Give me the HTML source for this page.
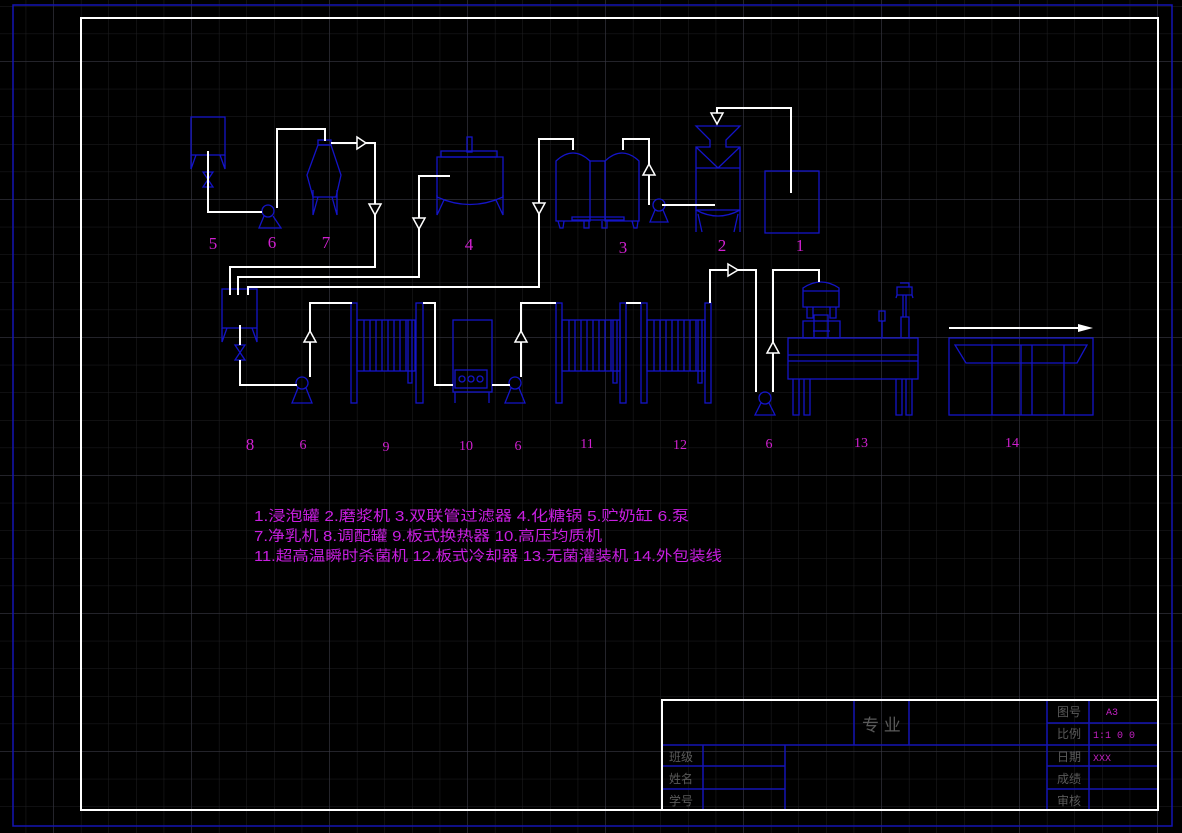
<!DOCTYPE html>
<html><head><meta charset="utf-8"><style>
html,body{margin:0;padding:0;background:#000;}
svg{display:block;}
.b{stroke:#1414c8;stroke-width:1.3;fill:none;}
.w{stroke:#fff;stroke-width:2;fill:none;}
.lab{fill:#d020d0;font-family:"Liberation Serif",serif;font-size:17px;text-anchor:middle;}
.lg{fill:#c81ee0;font-family:"Liberation Sans","Noto Sans CJK SC",sans-serif;font-size:14.5px;}
.g{fill:#5a5a5a;font-family:"Liberation Sans","Noto Sans CJK SC",sans-serif;font-size:12px;}
.m{fill:#c020c0;font-family:"Liberation Mono",monospace;font-size:10px;}
</style></head><body>
<svg width="1182" height="833" viewBox="0 0 1182 833" xmlns="http://www.w3.org/2000/svg">
<defs>
<pattern id="mi" x="25.7" y="6" width="27.6" height="27.6" patternUnits="userSpaceOnUse">
<path d="M0 0V27.6M0 0H27.6" stroke="#1f1f22" stroke-width="1"/></pattern>
<pattern id="ma" x="53.3" y="61" width="138" height="138" patternUnits="userSpaceOnUse">
<path d="M0 0V138M0 0H138" stroke="#3a3a46" stroke-width="1"/></pattern>
</defs>
<rect width="1182" height="833" fill="#000"/>
<rect width="1182" height="833" fill="url(#mi)"/>
<rect width="1182" height="833" fill="url(#ma)"/>
<rect x="13" y="5" width="1159" height="821" stroke="#1414b4" stroke-width="1.5" fill="none"/>
<rect x="81" y="18" width="1077" height="792" stroke="#fff" stroke-width="2" fill="none"/>

<!-- Tank 5 -->
<rect class="b" x="191" y="117" width="34" height="38"/>
<path class="b" d="M191 155V169L196 155M225 155V169L220 155"/>
<path class="b" d="M203 172H213L203 187H213Z"/>
<!-- pump 6 -->
<circle class="b" cx="268" cy="211" r="6"/><path class="b" d="M264 216L259 228H281L273 216"/>
<!-- Vessel 7 -->
<rect class="b" x="318" y="140" width="13" height="5"/>
<path class="b" d="M318 145L307 175L313 197L336 197L341 175L331 145Z"/>
<path class="b" d="M313 190V215L318 197M337 190V215L332 197"/>
<!-- Tank 4 -->
<rect class="b" x="467" y="137" width="5" height="15"/>
<rect class="b" x="441" y="151" width="56" height="6"/>
<path class="b" d="M437 157H503V197Q470 212 437 197Z"/>
<path class="b" d="M437 195V215L444 200M503 195V215L496 200"/>
<!-- Filter 3 -->
<path class="b" d="M556 161Q573 145 590 161V221H556Z"/>
<path class="b" d="M605 161Q622 145 639 161V221H605Z"/>
<path class="b" d="M590 161H605M572 217H624V220H572Z"/>
<path class="b" d="M558 221L560 228H563L564 221M584 221V228H589V221M602 221V228H607V221M632 221L634 228H637L638 221"/>
<!-- pump near 3 -->
<circle class="b" cx="659" cy="205" r="6"/><path class="b" d="M655 210L650 222H668L663 210"/>
<!-- Machine 2 -->
<path class="b" d="M696 126H740L726 140V147H740V210H696V147H710V140Z"/>
<path class="b" d="M696 147L718 168L740 147M696 168H740"/>
<path class="b" d="M696 210Q718 222 740 210M696 210V232M740 210V232M698 214L702 232M738 214L734 232"/>
<!-- box 1 -->
<rect class="b" x="765" y="171" width="54" height="62"/>

<!-- Tank 8 -->
<rect class="b" x="222" y="289" width="35" height="39"/>
<path class="b" d="M222 328V342L227 328M257 328V342L252 328"/>
<path class="b" d="M235 345H245L235 360H245Z"/>
<!-- pump -->
<circle class="b" cx="302" cy="383" r="6"/><path class="b" d="M298 388L292 403H312L306 388"/>
<!-- Exchanger 9 -->
<rect class="b" x="351" y="303" width="6" height="100"/>
<rect class="b" x="416" y="303" width="7" height="100"/>
<rect class="b" x="357" y="320" width="58" height="51"/>
<path class="b" d="M364 320V371M370 320V371M376 320V371M382 320V371M388 320V371M394 320V371M400 320V371M406 320V371M408 320V383H412V320"/>
<!-- homogenizer 10 -->
<rect class="b" x="453" y="320" width="39" height="72"/>
<rect class="b" x="455" y="370" width="32" height="18"/>
<circle class="b" cx="462" cy="379" r="3"/><circle class="b" cx="471" cy="379" r="3"/><circle class="b" cx="480" cy="379" r="3"/>
<path class="b" d="M455 392V403M489 392V403"/>
<!-- pump -->
<circle class="b" cx="515" cy="383" r="6"/><path class="b" d="M511 388L505 403H525L519 388"/>
<!-- Unit 11 -->
<rect class="b" x="556" y="303" width="6" height="100"/>
<rect class="b" x="620" y="303" width="6" height="100"/>
<rect class="b" x="562" y="320" width="58" height="51"/>
<path class="b" d="M569 320V371M575 320V371M581 320V371M587 320V371M593 320V371M599 320V371M605 320V371M611 320V371M613 320V383H617V320"/>
<!-- Unit 12 -->
<rect class="b" x="641" y="303" width="6" height="100"/>
<rect class="b" x="705" y="303" width="6" height="100"/>
<rect class="b" x="647" y="320" width="58" height="51"/>
<path class="b" d="M654 320V371M660 320V371M666 320V371M672 320V371M678 320V371M684 320V371M690 320V371M696 320V371M698 320V383H702V320"/>
<!-- pump -->
<circle class="b" cx="765" cy="398" r="6"/><path class="b" d="M761 403L755 415H775L769 403"/>
<!-- Filler 13 -->
<path class="b" d="M803 288Q821 276 839 288V307H803ZM803 291H839"/>
<path class="b" d="M807 307V318H813V307M830 307V318H836V307"/>
<path class="b" d="M803 321H840V338H803ZM814 315H828V338H814ZM813 331H830"/>
<rect class="b" x="788" y="338" width="130" height="41"/>
<path class="b" d="M788 355H918M788 361H918"/>
<path class="b" d="M793 379V415H799V379M804 379V415H810V379M896 379V415H902V379M906 379V415H912V379"/>
<rect class="b" x="879" y="311" width="6" height="10"/><path class="b" d="M882 321V338"/>
<path class="b" d="M901 338V317H909V338M903 317V295H906V317M897 287H912V295H897ZM900 283H909V287M897 295L896 298M912 295L913 298"/>
<!-- Packaging 14 -->
<rect class="b" x="949" y="338" width="144" height="77"/>
<path class="b" d="M955 345H1087L1077 363H966ZM992 345V415M1021 345V415M1032 345V415M1064 345V415"/>
<path class="w" d="M949 328H1083"/><path d="M1078 324L1093 328L1078 332Z" fill="#fff"/>

<!-- White pipes -->
<path class="w" d="M208 151V212H262"/>
<path class="w" d="M277 208V129H325V141"/>
<path class="w" d="M331 143H375V267H230V295"/>
<path class="w" d="M450 176H419V277H238V295"/>
<path class="w" d="M573 150V139H539V287H248V295"/>
<path class="w" d="M623 150V139H649V205"/>
<path class="w" d="M662 205H715"/>
<path class="w" d="M717 123V108H791V193"/>
<path class="w" d="M240 325V345M240 360V385H297"/>
<path class="w" d="M310 377V303H352"/>
<path class="w" d="M423 303H435V385H453"/>
<path class="w" d="M492 385H510"/>
<path class="w" d="M521 377V303H556"/>
<path class="w" d="M626 303H641"/>
<path class="w" d="M710 303V270H756V392"/>
<path class="w" d="M773 392V270H819V282"/>
<!-- arrowheads (hollow) -->
<g stroke="#fff" stroke-width="1.5" fill="#000">
<path d="M357 137L366 143L357 149Z"/>
<path d="M369 204L375 215L381 204Z"/>
<path d="M413 218L419 229L425 218Z"/>
<path d="M533 203L539 214L545 203Z"/>
<path d="M643 175L649 164L655 175Z"/>
<path d="M711 113L717 124L723 113Z"/>
<path d="M304 342L310 331L316 342Z"/>
<path d="M515 342L521 331L527 342Z"/>
<path d="M728 264L738 270L728 276Z"/>
<path d="M767 353L773 342L779 353Z"/>
</g>

<!-- labels -->
<text class="lab" x="213" y="249">5</text>
<text class="lab" x="272" y="248">6</text>
<text class="lab" x="326" y="248">7</text>
<text class="lab" x="469" y="250">4</text>
<text class="lab" x="623" y="253">3</text>
<text class="lab" x="722" y="251">2</text>
<text class="lab" x="800" y="251">1</text>
<text class="lab" x="250" y="450">8</text>
<text class="lab" x="303" y="449" style="font-size:14px">6</text>
<text class="lab" x="386" y="451" style="font-size:14px">9</text>
<text class="lab" x="466" y="450" style="font-size:14px">10</text>
<text class="lab" x="518" y="450" style="font-size:14px">6</text>
<text class="lab" x="587" y="448" style="font-size:14px">11</text>
<text class="lab" x="680" y="449" style="font-size:14px">12</text>
<text class="lab" x="769" y="448" style="font-size:14px">6</text>
<text class="lab" x="861" y="447" style="font-size:14px">13</text>
<text class="lab" x="1012" y="447" style="font-size:14px">14</text>

<!-- legend -->
<text class="lg" x="254" y="521" textLength="435" lengthAdjust="spacingAndGlyphs">1.浸泡罐 2.磨浆机 3.双联管过滤器 4.化糖锅 5.贮奶缸 6.泵</text>
<text class="lg" x="254" y="541" textLength="348" lengthAdjust="spacingAndGlyphs">7.净乳机 8.调配罐 9.板式换热器 10.高压均质机</text>
<text class="lg" x="254" y="561" textLength="468" lengthAdjust="spacingAndGlyphs">11.超高温瞬时杀菌机 12.板式冷却器 13.无菌灌装机 14.外包装线</text>

<!-- title block -->
<g stroke="#1414b4" stroke-width="1.5" fill="none">
<path d="M662 745H1158M854 700V745M909 700V745M1047 700V810M1089 700V810M1047 723H1158M1047 766H1158M1047 789H1158M703 745V810M785 745V810M662 766H785M662 789H785"/>
</g>
<rect x="662" y="700" width="496" height="110" stroke="#fff" stroke-width="2" fill="none"/>
<text class="g" x="862" y="731" style="font-size:17px">专 业</text>
<text class="g" x="1057" y="716">图号</text>
<text class="g" x="1057" y="738">比例</text>
<text class="g" x="1057" y="761">日期</text>
<text class="g" x="1057" y="783">成绩</text>
<text class="g" x="1057" y="805">审核</text>
<text class="g" x="669" y="761">班级</text>
<text class="g" x="669" y="783">姓名</text>
<text class="g" x="669" y="805">学号</text>
<text class="m" x="1106" y="715">A3</text>
<text class="m" x="1093" y="738">1:1 0 0</text>
<text class="m" x="1093" y="761">XXX</text>
</svg>
</body></html>
